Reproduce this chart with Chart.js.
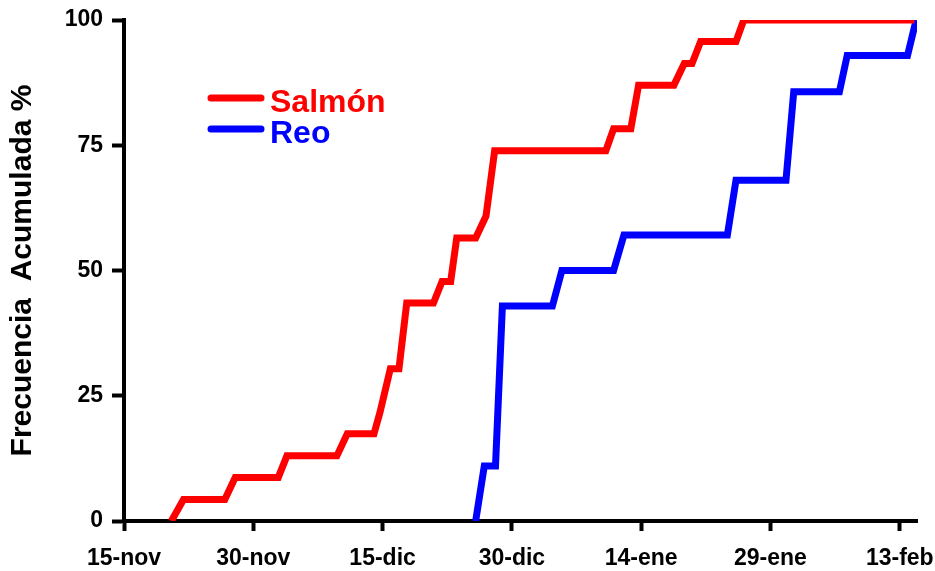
<!DOCTYPE html>
<html lang="es">
<head>
    <meta charset="UTF-8">
    <title>Frecuencia Acumulada</title>
    <script src="https://cdn.jsdelivr.net/npm/chart.js"></script>
    <style>
        body { margin: 0; background: #fff; }
        #wrap { width: 935px; height: 571px; position: relative; }
    </style>
</head>
<body>
    <div id="wrap"><canvas id="frecChart"></canvas></div>

    <script>
        // días desde el 15-nov
        const tickDays = [0, 15, 30, 45, 60, 75, 90];
        const tickLabels = ['15-nov', '30-nov', '15-dic', '30-dic', '14-ene', '29-ene', '13-feb'];

        const salmonDays = [5.5, 6.9, 11.7, 12.9, 17.9, 18.9, 24.7, 25.9, 29.0, 29.7, 30.9, 31.9, 32.8, 35.9, 36.9, 37.9, 38.6, 40.8, 42.0, 43.0, 55.9, 56.8, 58.8, 59.7, 63.8, 65.0, 65.9, 66.9, 71.0, 71.9, 91.7];
        const salmonPct = [0, 4.3, 4.3, 8.7, 8.7, 13.0, 13.0, 17.4, 17.4, 21.7, 30.4, 30.4, 43.5, 43.5, 47.8, 47.8, 56.5, 56.5, 60.9, 73.9, 73.9, 78.3, 78.3, 87.0, 87.0, 91.3, 91.3, 95.7, 95.7, 100, 100];

        const reoDays = [40.8, 41.8, 43.1, 43.9, 49.7, 50.8, 56.8, 58.0, 70.0, 71.0, 76.8, 77.7, 83.0, 83.9, 90.9, 91.9];
        const reoPct = [0, 11.0, 11.0, 42.9, 42.9, 50.0, 50.0, 57.1, 57.1, 68.0, 68.0, 85.7, 85.7, 92.9, 92.9, 100];

        const FONT = "'Liberation Sans', Arial, sans-serif";

        function toPoints(xs, ys) {
            return xs.map((x, i) => ({ x: x, y: ys[i] }));
        }

        // leyenda dibujada dentro del área del gráfico
        const inlineLegend = {
            id: 'inlineLegend',
            afterDraw(chart) {
                const ctx = chart.ctx;
                const rows = [98, 129];
                ctx.save();
                ctx.font = 'bold 32px ' + FONT;
                ctx.textBaseline = 'alphabetic';
                chart.data.datasets.forEach((ds, i) => {
                    const y = rows[i];
                    ctx.strokeStyle = ds.borderColor;
                    ctx.lineWidth = 7;
                    ctx.lineCap = 'round';
                    ctx.beginPath();
                    ctx.moveTo(211, y);
                    ctx.lineTo(261, y);
                    ctx.stroke();
                    ctx.fillStyle = ds.borderColor;
                    ctx.fillText(ds.label, 270, y + 14);
                });
                ctx.restore();
            }
        };

        const ctx = document.getElementById('frecChart').getContext('2d');
        new Chart(ctx, {
            type: 'line',
            data: {
                datasets: [{
                    label: 'Salmón',
                    data: toPoints(salmonDays, salmonPct),
                    borderColor: '#ff0000',
                    borderWidth: 7,
                    pointRadius: 0,
                    tension: 0
                }, {
                    label: 'Reo',
                    data: toPoints(reoDays, reoPct),
                    borderColor: '#0000ff',
                    borderWidth: 7,
                    pointRadius: 0,
                    tension: 0
                }]
            },
            options: {
                responsive: true,
                maintainAspectRatio: false,
                animation: false,
                layout: { padding: { top: 20, right: 18, left: 0, bottom: 0 } },
                plugins: {
                    legend: { display: false },
                    tooltip: { enabled: false }
                },
                scales: {
                    x: {
                        type: 'linear',
                        min: 0,
                        max: 92,
                        afterBuildTicks: (axis) => {
                            axis.ticks = tickDays.map(v => ({ value: v }));
                        },
                        afterFit: (s) => {
                            s.height = 50;
                            s.paddingLeft = 0;
                            s.paddingRight = 0;
                        },
                        grid: {
                            drawOnChartArea: false,
                            drawTicks: true,
                            tickLength: 10,
                            tickWidth: 4,
                            tickColor: '#000'
                        },
                        border: { display: true, color: '#000', width: 4 },
                        ticks: {
                            padding: 14,
                            color: '#000',
                            font: { family: FONT, size: 23, weight: 'bold' },
                            maxRotation: 0,
                            autoSkip: false,
                            callback: (v) => tickLabels[tickDays.indexOf(v)]
                        }
                    },
                    y: {
                        min: 0,
                        max: 100,
                        afterFit: (s) => {
                            s.width = 124;
                            s.paddingTop = 0;
                            s.paddingBottom = 0;
                        },
                        grid: {
                            drawOnChartArea: false,
                            drawTicks: true,
                            tickLength: 12,
                            tickWidth: 4,
                            tickColor: '#000'
                        },
                        border: { display: true, color: '#000', width: 4 },
                        ticks: {
                            stepSize: 25,
                            padding: 9,
                            color: '#000',
                            font: { family: FONT, size: 23, weight: 'bold' }
                        },
                        title: {
                            display: true,
                            text: 'Frecuencia  Acumulada %',
                            color: '#000',
                            font: { family: FONT, size: 30, weight: 'bold' },
                            padding: { top: 5, bottom: 0 }
                        }
                    }
                }
            },
            plugins: [inlineLegend]
        });
    </script>
</body>
</html>
